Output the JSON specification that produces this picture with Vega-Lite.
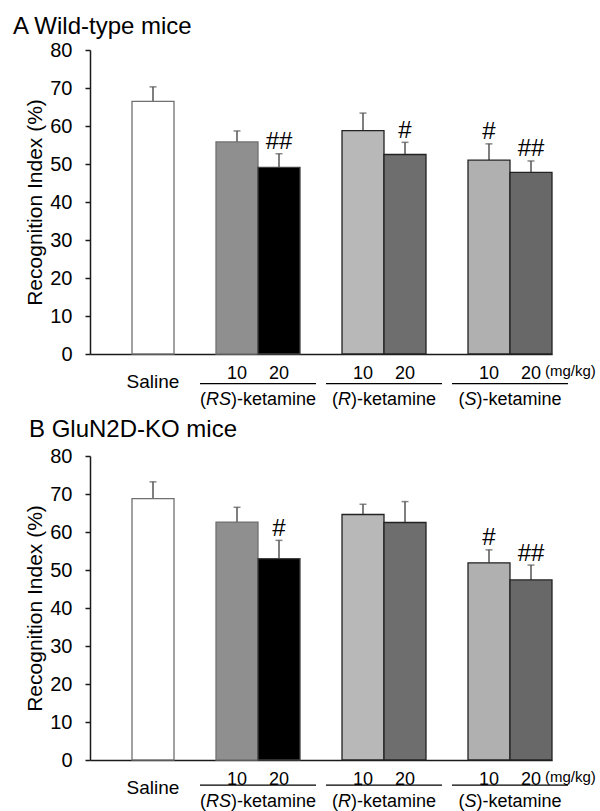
{
  "$schema": "https://vega.github.io/schema/vega-lite/v6.json",
  "padding": {"left": 13, "top": 15, "right": 0, "bottom": 0},
  "config": {
    "font": "Liberation Sans",
    "view": {"stroke": null},
    "axis": {"labelColor": "black", "titleColor": "black", "domainColor": "#1a1a1a", "tickColor": "#1a1a1a", "domainWidth": 1.5, "tickWidth": 1.5, "grid": false},
    "axisY": {"tickCount": 9, "labelFontSize": 20, "labelPadding": 13, "tickSize": 5, "titleFontSize": 21, "titleFontWeight": "normal", "titlePadding": 4, "labelOverlap": false}
  },
  "datasets": {
    "bars": [
      {"panel": "A", "id": "Saline", "value": 66.5, "err": 70.3, "sig": ""},
      {"panel": "A", "id": "RS10", "value": 55.8, "err": 58.7, "sig": ""},
      {"panel": "A", "id": "RS20", "value": 49.1, "err": 52.7, "sig": "##"},
      {"panel": "A", "id": "R10", "value": 58.8, "err": 63.4, "sig": ""},
      {"panel": "A", "id": "R20", "value": 52.5, "err": 55.7, "sig": "#"},
      {"panel": "A", "id": "S10", "value": 51.0, "err": 55.3, "sig": "#"},
      {"panel": "A", "id": "S20", "value": 47.8, "err": 50.8, "sig": "##"},
      {"panel": "B", "id": "Saline", "value": 68.8, "err": 73.2, "sig": ""},
      {"panel": "B", "id": "RS10", "value": 62.6, "err": 66.5, "sig": ""},
      {"panel": "B", "id": "RS20", "value": 53.0, "err": 57.8, "sig": "#"},
      {"panel": "B", "id": "R10", "value": 64.6, "err": 67.3, "sig": ""},
      {"panel": "B", "id": "R20", "value": 62.5, "err": 68.0, "sig": ""},
      {"panel": "B", "id": "S10", "value": 51.9, "err": 55.3, "sig": "#"},
      {"panel": "B", "id": "S20", "value": 47.4, "err": 51.3, "sig": "##"}
    ],
    "groups": [
      {"first": "RS10", "second": "RS20", "ital": "RS"},
      {"first": "R10", "second": "R20", "ital": "R"},
      {"first": "S10", "second": "S20", "ital": "S"}
    ],
    "unit": [{"t": "(mg/kg)"}]
  },
  "spacing": 102,
  "bounds": "flush",
  "vconcat": [
    {
      "width": 462, "height": 304,
      "title": {"text": "A  Wild-type mice", "anchor": "start", "frame": "group", "dx": -77, "fontSize": 24, "fontWeight": "normal", "color": "black", "offset": 1},
      "layer": [
        {
          "data": {"name": "bars"}, "transform": [{"filter": "datum.panel == 'A'"}],
          "mark": {"type": "rule", "color": "#555", "strokeWidth": 1.5},
          "encoding": {
            "x": {"field": "id", "type": "nominal", "scale": {"domain": ["_0","Saline","_1","RS10","RS20","_2","R10","R20","_3","S10","S20"], "paddingInner": 0, "paddingOuter": 0},
                  "axis": {"title": null, "ticks": false, "tickSize": 0, "labelAngle": 0, "labelBaseline": "middle",
                           "labelExpr": "datum.value == 'Saline' ? 'Saline' : slice(datum.value, -2) == '10' ? '10' : slice(datum.value, -2) == '20' ? '20' : ''",
                           "labelFontSize": {"condition": {"test": "datum.value == 'Saline'", "value": 19}, "value": 18},
                           "labelPadding": {"condition": {"test": "datum.value == 'Saline'", "value": 27}, "value": 19}}},
            "y": {"field": "value", "type": "quantitative", "scale": {"domain": [0, 80], "nice": false},
                  "axis": {"title": "Recognition Index (%)", "values": [0,10,20,30,40,50,60,70,80]}},
            "y2": {"field": "err"}
          }
        },
        {
          "data": {"name": "bars"}, "transform": [{"filter": "datum.panel == 'A'"}],
          "mark": {"type": "tick", "orient": "horizontal", "size": 7, "thickness": 1.5, "color": "#555"},
          "encoding": {
            "x": {"field": "id", "type": "nominal", "scale": {"domain": ["_0","Saline","_1","RS10","RS20","_2","R10","R20","_3","S10","S20"], "paddingInner": 0, "paddingOuter": 0}},
            "y": {"field": "err", "type": "quantitative", "scale": {"domain": [0, 80], "nice": false}, "axis": {"title": "Recognition Index (%)", "values": [0,10,20,30,40,50,60,70,80]}}
          }
        },
        {
          "data": {"name": "bars"}, "transform": [{"filter": "datum.panel == 'A'"}],
          "mark": {"type": "bar", "strokeWidth": 1.3},
          "encoding": {
            "x": {"field": "id", "type": "nominal", "scale": {"domain": ["_0","Saline","_1","RS10","RS20","_2","R10","R20","_3","S10","S20"], "paddingInner": 0, "paddingOuter": 0}},
            "y": {"field": "value", "type": "quantitative", "scale": {"domain": [0, 80], "nice": false}, "axis": {"title": "Recognition Index (%)", "values": [0,10,20,30,40,50,60,70,80]}},
            "fill": {"field": "id", "type": "nominal", "legend": null, "scale": {"domain": ["Saline","RS10","RS20","R10","R20","S10","S20"], "range": ["#ffffff","#8f8f8f","#000000","#b8b8b8","#6e6e6e","#b0b0b0","#686868"]}},
            "stroke": {"field": "id", "type": "nominal", "legend": null, "scale": {"domain": ["Saline","RS10","RS20","R10","R20","S10","S20"], "range": ["#707070","#707070","#404040","#222222","#222222","#222222","#222222"]}}
          }
        },
        {
          "data": {"name": "bars"}, "transform": [{"filter": "datum.panel == 'A'"}],
          "mark": {"type": "text", "fontSize": 24, "baseline": "alphabetic", "dy": -4.5, "color": "black"},
          "encoding": {
            "x": {"field": "id", "type": "nominal", "scale": {"domain": ["_0","Saline","_1","RS10","RS20","_2","R10","R20","_3","S10","S20"], "paddingInner": 0, "paddingOuter": 0}},
            "y": {"field": "err", "type": "quantitative", "scale": {"domain": [0, 80], "nice": false}, "axis": {"title": "Recognition Index (%)", "values": [0,10,20,30,40,50,60,70,80]}},
            "text": {"field": "sig"}
          }
        },
        {
          "data": {"name": "groups"},
          "mark": {"type": "rule", "color": "black", "strokeWidth": 1.2, "xOffset": -16, "x2Offset": 16},
          "encoding": {
            "x": {"field": "first", "type": "nominal", "bandPosition": 0, "scale": {"domain": ["_0","Saline","_1","RS10","RS20","_2","R10","R20","_3","S10","S20"], "paddingInner": 0, "paddingOuter": 0}},
            "x2": {"field": "second", "bandPosition": 1},
            "y": {"datum": -7.8, "type": "quantitative", "scale": {"domain": [0, 80], "nice": false}, "axis": {"title": "Recognition Index (%)", "values": [0,10,20,30,40,50,60,70,80]}}
          }
        },
        {
          "data": {"name": "groups"},
          "mark": {"type": "text", "fontSize": 18, "align": "left", "baseline": "middle", "color": "black", "dx": {"expr": "datum.ital == 'RS' ? -58 : datum.ital == 'R' ? -52 : -51.5"}},
          "encoding": {
            "x": {"field": "second", "type": "nominal", "bandPosition": 0, "scale": {"domain": ["_0","Saline","_1","RS10","RS20","_2","R10","R20","_3","S10","S20"], "paddingInner": 0, "paddingOuter": 0}},
            "y": {"datum": -12.2, "type": "quantitative", "scale": {"domain": [0, 80], "nice": false}, "axis": {"title": "Recognition Index (%)", "values": [0,10,20,30,40,50,60,70,80]}},
            "text": {"value": "("}
          }
        },
        {
          "data": {"name": "groups"},
          "mark": {"type": "text", "fontSize": 18, "fontStyle": "italic", "align": "left", "baseline": "middle", "color": "black", "dx": {"expr": "datum.ital == 'RS' ? -52 : datum.ital == 'R' ? -46 : -45.5"}},
          "encoding": {
            "x": {"field": "second", "type": "nominal", "bandPosition": 0, "scale": {"domain": ["_0","Saline","_1","RS10","RS20","_2","R10","R20","_3","S10","S20"], "paddingInner": 0, "paddingOuter": 0}},
            "y": {"datum": -12.2, "type": "quantitative", "scale": {"domain": [0, 80], "nice": false}, "axis": {"title": "Recognition Index (%)", "values": [0,10,20,30,40,50,60,70,80]}},
            "text": {"field": "ital"}
          }
        },
        {
          "data": {"name": "groups"},
          "mark": {"type": "text", "fontSize": 18, "align": "left", "baseline": "middle", "color": "black", "dx": {"expr": "datum.ital == 'RS' ? -27 : datum.ital == 'R' ? -33 : -33.5"}},
          "encoding": {
            "x": {"field": "second", "type": "nominal", "bandPosition": 0, "scale": {"domain": ["_0","Saline","_1","RS10","RS20","_2","R10","R20","_3","S10","S20"], "paddingInner": 0, "paddingOuter": 0}},
            "y": {"datum": -12.2, "type": "quantitative", "scale": {"domain": [0, 80], "nice": false}, "axis": {"title": "Recognition Index (%)", "values": [0,10,20,30,40,50,60,70,80]}},
            "text": {"value": ")-ketamine"}
          }
        },
        {
          "data": {"name": "unit"},
          "mark": {"type": "text", "fontSize": 15, "align": "left", "baseline": "middle", "color": "black", "dx": 14},
          "encoding": {
            "x": {"datum": "S20", "type": "nominal", "scale": {"domain": ["_0","Saline","_1","RS10","RS20","_2","R10","R20","_3","S10","S20"], "paddingInner": 0, "paddingOuter": 0}},
            "y": {"datum": -4.5, "type": "quantitative", "scale": {"domain": [0, 80], "nice": false}, "axis": {"title": "Recognition Index (%)", "values": [0,10,20,30,40,50,60,70,80]}},
            "text": {"field": "t"}
          }
        }
      ]
    },
    {
      "width": 462, "height": 304,
      "title": {"text": "B GluN2D-KO mice", "anchor": "start", "frame": "group", "dx": -61, "fontSize": 24, "fontWeight": "normal", "color": "black", "offset": 4},
      "layer": [
        {
          "data": {"name": "bars"}, "transform": [{"filter": "datum.panel == 'B'"}],
          "mark": {"type": "rule", "color": "#555", "strokeWidth": 1.5},
          "encoding": {
            "x": {"field": "id", "type": "nominal", "scale": {"domain": ["_0","Saline","_1","RS10","RS20","_2","R10","R20","_3","S10","S20"], "paddingInner": 0, "paddingOuter": 0},
                  "axis": {"title": null, "ticks": false, "tickSize": 0, "labelAngle": 0, "labelBaseline": "middle",
                           "labelExpr": "datum.value == 'Saline' ? 'Saline' : slice(datum.value, -2) == '10' ? '10' : slice(datum.value, -2) == '20' ? '20' : ''",
                           "labelFontSize": {"condition": {"test": "datum.value == 'Saline'", "value": 19}, "value": 18},
                           "labelPadding": {"condition": {"test": "datum.value == 'Saline'", "value": 27}, "value": 19}}},
            "y": {"field": "value", "type": "quantitative", "scale": {"domain": [0, 80], "nice": false},
                  "axis": {"title": "Recognition Index (%)", "values": [0,10,20,30,40,50,60,70,80]}},
            "y2": {"field": "err"}
          }
        },
        {
          "data": {"name": "bars"}, "transform": [{"filter": "datum.panel == 'B'"}],
          "mark": {"type": "tick", "orient": "horizontal", "size": 7, "thickness": 1.5, "color": "#555"},
          "encoding": {
            "x": {"field": "id", "type": "nominal", "scale": {"domain": ["_0","Saline","_1","RS10","RS20","_2","R10","R20","_3","S10","S20"], "paddingInner": 0, "paddingOuter": 0}},
            "y": {"field": "err", "type": "quantitative", "scale": {"domain": [0, 80], "nice": false}, "axis": {"title": "Recognition Index (%)", "values": [0,10,20,30,40,50,60,70,80]}}
          }
        },
        {
          "data": {"name": "bars"}, "transform": [{"filter": "datum.panel == 'B'"}],
          "mark": {"type": "bar", "strokeWidth": 1.3},
          "encoding": {
            "x": {"field": "id", "type": "nominal", "scale": {"domain": ["_0","Saline","_1","RS10","RS20","_2","R10","R20","_3","S10","S20"], "paddingInner": 0, "paddingOuter": 0}},
            "y": {"field": "value", "type": "quantitative", "scale": {"domain": [0, 80], "nice": false}, "axis": {"title": "Recognition Index (%)", "values": [0,10,20,30,40,50,60,70,80]}},
            "fill": {"field": "id", "type": "nominal", "legend": null, "scale": {"domain": ["Saline","RS10","RS20","R10","R20","S10","S20"], "range": ["#ffffff","#8f8f8f","#000000","#b8b8b8","#6e6e6e","#b0b0b0","#686868"]}},
            "stroke": {"field": "id", "type": "nominal", "legend": null, "scale": {"domain": ["Saline","RS10","RS20","R10","R20","S10","S20"], "range": ["#707070","#707070","#404040","#222222","#222222","#222222","#222222"]}}
          }
        },
        {
          "data": {"name": "bars"}, "transform": [{"filter": "datum.panel == 'B'"}],
          "mark": {"type": "text", "fontSize": 24, "baseline": "alphabetic", "dy": -4.5, "color": "black"},
          "encoding": {
            "x": {"field": "id", "type": "nominal", "scale": {"domain": ["_0","Saline","_1","RS10","RS20","_2","R10","R20","_3","S10","S20"], "paddingInner": 0, "paddingOuter": 0}},
            "y": {"field": "err", "type": "quantitative", "scale": {"domain": [0, 80], "nice": false}, "axis": {"title": "Recognition Index (%)", "values": [0,10,20,30,40,50,60,70,80]}},
            "text": {"field": "sig"}
          }
        },
        {
          "data": {"name": "groups"},
          "mark": {"type": "rule", "color": "black", "strokeWidth": 1.2, "xOffset": -16, "x2Offset": 16},
          "encoding": {
            "x": {"field": "first", "type": "nominal", "bandPosition": 0, "scale": {"domain": ["_0","Saline","_1","RS10","RS20","_2","R10","R20","_3","S10","S20"], "paddingInner": 0, "paddingOuter": 0}},
            "x2": {"field": "second", "bandPosition": 1},
            "y": {"datum": -6.6, "type": "quantitative", "scale": {"domain": [0, 80], "nice": false}, "axis": {"title": "Recognition Index (%)", "values": [0,10,20,30,40,50,60,70,80]}}
          }
        },
        {
          "data": {"name": "groups"},
          "mark": {"type": "text", "fontSize": 18, "align": "left", "baseline": "middle", "color": "black", "dx": {"expr": "datum.ital == 'RS' ? -58 : datum.ital == 'R' ? -52 : -51.5"}},
          "encoding": {
            "x": {"field": "second", "type": "nominal", "bandPosition": 0, "scale": {"domain": ["_0","Saline","_1","RS10","RS20","_2","R10","R20","_3","S10","S20"], "paddingInner": 0, "paddingOuter": 0}},
            "y": {"datum": -11.0, "type": "quantitative", "scale": {"domain": [0, 80], "nice": false}, "axis": {"title": "Recognition Index (%)", "values": [0,10,20,30,40,50,60,70,80]}},
            "text": {"value": "("}
          }
        },
        {
          "data": {"name": "groups"},
          "mark": {"type": "text", "fontSize": 18, "fontStyle": "italic", "align": "left", "baseline": "middle", "color": "black", "dx": {"expr": "datum.ital == 'RS' ? -52 : datum.ital == 'R' ? -46 : -45.5"}},
          "encoding": {
            "x": {"field": "second", "type": "nominal", "bandPosition": 0, "scale": {"domain": ["_0","Saline","_1","RS10","RS20","_2","R10","R20","_3","S10","S20"], "paddingInner": 0, "paddingOuter": 0}},
            "y": {"datum": -11.0, "type": "quantitative", "scale": {"domain": [0, 80], "nice": false}, "axis": {"title": "Recognition Index (%)", "values": [0,10,20,30,40,50,60,70,80]}},
            "text": {"field": "ital"}
          }
        },
        {
          "data": {"name": "groups"},
          "mark": {"type": "text", "fontSize": 18, "align": "left", "baseline": "middle", "color": "black", "dx": {"expr": "datum.ital == 'RS' ? -27 : datum.ital == 'R' ? -33 : -33.5"}},
          "encoding": {
            "x": {"field": "second", "type": "nominal", "bandPosition": 0, "scale": {"domain": ["_0","Saline","_1","RS10","RS20","_2","R10","R20","_3","S10","S20"], "paddingInner": 0, "paddingOuter": 0}},
            "y": {"datum": -11.0, "type": "quantitative", "scale": {"domain": [0, 80], "nice": false}, "axis": {"title": "Recognition Index (%)", "values": [0,10,20,30,40,50,60,70,80]}},
            "text": {"value": ")-ketamine"}
          }
        },
        {
          "data": {"name": "unit"},
          "mark": {"type": "text", "fontSize": 15, "align": "left", "baseline": "middle", "color": "black", "dx": 14},
          "encoding": {
            "x": {"datum": "S20", "type": "nominal", "scale": {"domain": ["_0","Saline","_1","RS10","RS20","_2","R10","R20","_3","S10","S20"], "paddingInner": 0, "paddingOuter": 0}},
            "y": {"datum": -4.5, "type": "quantitative", "scale": {"domain": [0, 80], "nice": false}, "axis": {"title": "Recognition Index (%)", "values": [0,10,20,30,40,50,60,70,80]}},
            "text": {"field": "t"}
          }
        }
      ]
    }
  ]
}
